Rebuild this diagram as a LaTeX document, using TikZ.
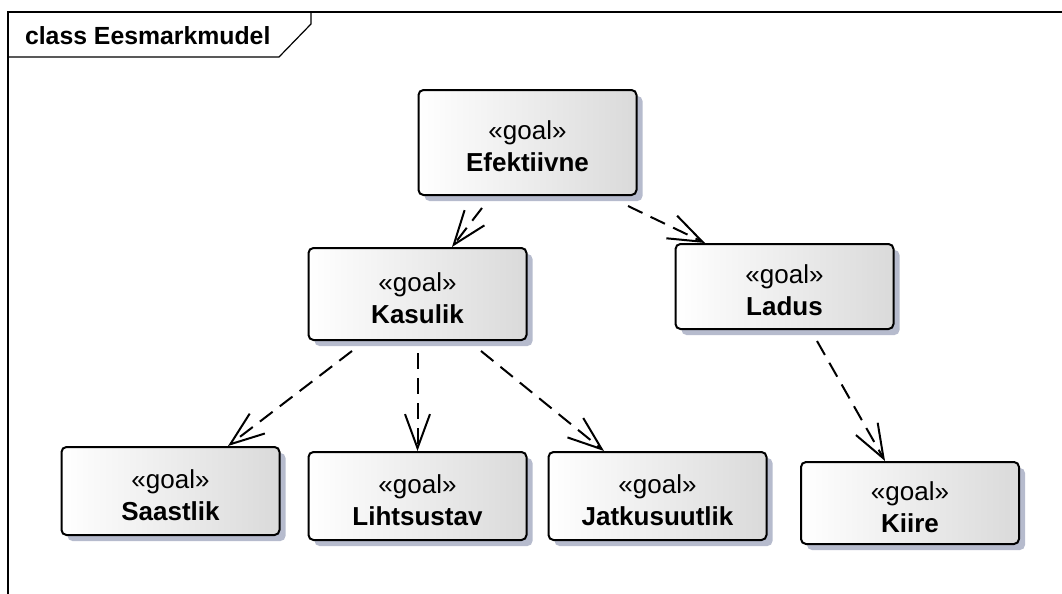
\documentclass[tikz,border=0pt]{standalone}
\usepackage{fontspec}
\setmainfont{Liberation Sans}
\usetikzlibrary{arrows.meta,shadows,calc}
\definecolor{shadowblue}{HTML}{B6BBCD}
\definecolor{boxgrey}{HTML}{DADADA}
\newcommand{\goaltext}[1]{\rule{0pt}{13.5pt}«goal»\\\textbf{#1}}
\tikzset{
  goal/.style={draw, line width=1pt, rounded corners=2.5pt, left color=white, right color=boxgrey,
    drop shadow={shadow xshift=3pt, shadow yshift=-3pt, fill=shadowblue, opacity=1},
    minimum width=109pt, align=center, font=\fontsize{13}{16}\selectfont, inner sep=0pt},
  dep/.style={line width=1pt, dash pattern=on 8pt off 4.5pt, -{Straight Barb[length=17pt,width=12.5pt,line width=1pt]}}
}
\begin{document}
\begin{tikzpicture}[x=0.5pt,y=-0.5pt]
		\useasboundingbox (0,0) rectangle (1062,594);
		% frame and title tab
		\draw[line width=0.6pt] (8,594) -- (8,12) -- (1062,12);
		\draw[line width=0.6pt] (8,57) -- (279,57) -- (311,24) -- (311,12);
		\node[anchor=base west, font=\fontsize{12.4}{15}\selectfont\bfseries] (title) at (18,44) {class Eesmarkmudel};
		% goals
		\node[goal, minimum height=52.5pt] (efektiivne) at (527.5,142.5) {\goaltext{Efektiivne}};
		\node[goal, minimum height=46pt] (kasulik) at (417.5,294) {\goaltext{Kasulik}};
		\node[goal, minimum height=42.5pt] (ladus) at (784.5,286.5) {\goaltext{Ladus}};
		\node[goal, minimum height=44pt] (saastlik) at (170.5,491) {\goaltext{Saastlik}};
		\node[goal, minimum height=44pt] (lihtsustav) at (417.5,496) {\goaltext{Lihtsustav}};
		\node[goal, minimum height=44pt] (jatkusuutlik) at (657.5,496) {\goaltext{Jatkusuutlik}};
		\node[goal, minimum height=41pt] (kiire) at (910,503) {\goaltext{Kiire}};
		% dependencies
		\draw[dep] ($(efektiivne.south)+(-45.5,12)$) -- ($(kasulik.north)+(34.5,0)$);
		\draw[dep] ($(efektiivne.south)+(100.5,10)$) -- ($(ladus.north)+(-79.5,0)$);
		\draw[dep] ($(kasulik.south)+(-65.5,10)$) -- ($(saastlik.north)+(57.5,0)$);
		\draw[dep] ($(kasulik.south)+(0,12)$) -- (lihtsustav.north);
		\draw[dep] ($(kasulik.south)+(63.5,10)$) -- ($(jatkusuutlik.north)+(-53.5,0)$);
		\draw[dep] ($(ladus.south)+(32.5,11)$) -- ($(kiire.north)+(-25,0)$);
\end{tikzpicture}
\end{document}
